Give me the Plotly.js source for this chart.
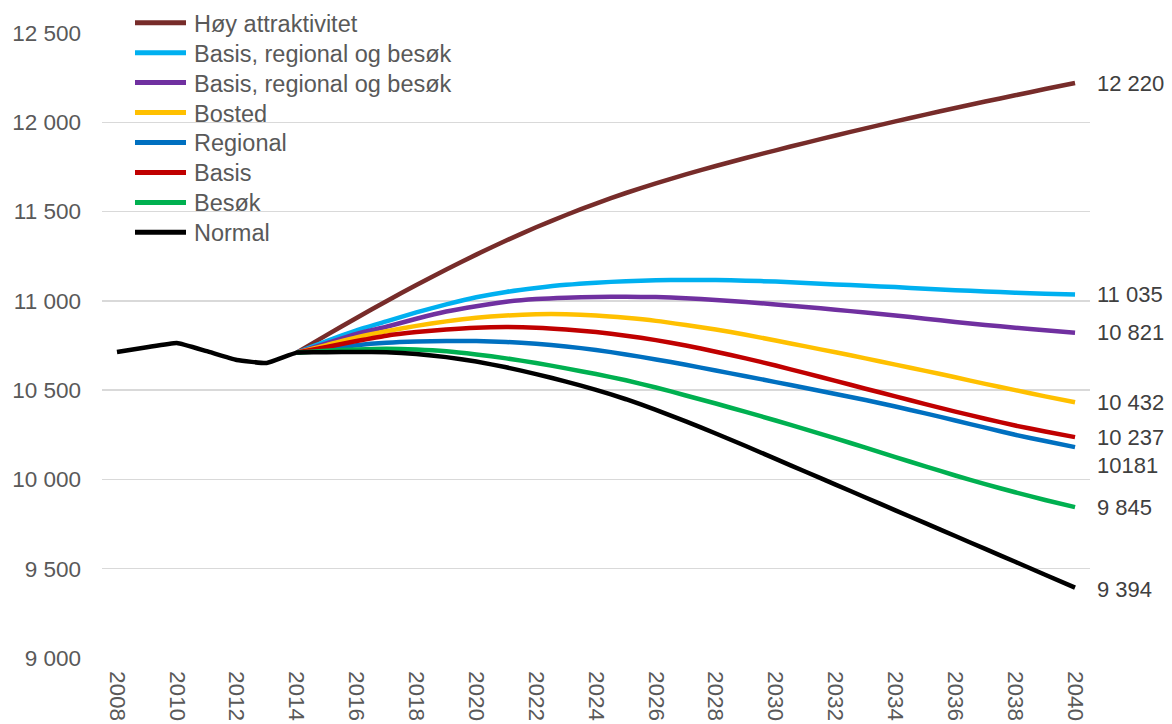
<!DOCTYPE html>
<html>
<head>
<meta charset="utf-8">
<script src="https://cdn.plot.ly/plotly-3.0.1.min.js"></script>
<style>html,body{margin:0;padding:0;background:#fff;}#chart{width:1172px;height:724px;}</style>
</head>
<body>
<div id="chart"></div>
<script>
// ---- data ----
const allYears = [2008,2009,2010,2011,2012,2013,2014,2015,2016,2017,2018,2019,2020,2021,2022,2023,2024,2025,2026,2027,2028,2029,2030,2031,2032,2033,2034,2035,2036,2037,2038,2039,2040];
const projYears = [2014,2015,2016,2017,2018,2019,2020,2021,2022,2023,2024,2025,2026,2027,2028,2029,2030,2031,2032,2033,2034,2035,2036,2037,2038,2039,2040];

const seriesNames = ["Høy attraktivitet","Basis, regional og besøk","Basis, regional og besøk","Bosted","Regional","Basis","Besøk","Normal"];

const hoyAttraktivitet = [10710,10808,10904,10998,11089,11176,11259,11338,11412,11481,11545,11604,11658,11708,11755,11800,11843,11885,11926,11966,12005,12043,12080,12116,12151,12186,12220];
const basisRegBesok1 = [10710,10775,10835,10885,10935,10980,11020,11050,11072,11090,11102,11110,11115,11117,11117,11113,11108,11100,11092,11085,11077,11068,11060,11053,11046,11040,11035];
const basisRegBesok2 = [10710,10762,10815,10855,10900,10940,10970,10995,11010,11018,11022,11023,11021,11015,11005,10993,10980,10966,10950,10935,10918,10900,10882,10865,10850,10835,10821];
const bosted = [10710,10752,10795,10830,10860,10885,10905,10918,10925,10925,10918,10905,10888,10865,10840,10810,10778,10745,10712,10678,10643,10608,10572,10535,10500,10465,10432];
const regional = [10710,10732,10752,10765,10772,10775,10775,10770,10760,10745,10725,10700,10672,10642,10610,10578,10545,10512,10478,10445,10408,10370,10330,10290,10250,10215,10181];
const basis = [10710,10742,10775,10805,10825,10840,10850,10853,10850,10840,10825,10805,10780,10750,10715,10678,10638,10595,10552,10508,10465,10422,10380,10340,10302,10268,10237];
const besok = [10710,10720,10728,10732,10728,10718,10700,10678,10652,10622,10590,10555,10515,10470,10425,10378,10330,10280,10230,10178,10125,10073,10022,9974,9928,9885,9845];
const normal = [10714,10740,10764,10718,10669,10652,10710,10712,10714,10712,10702,10685,10660,10628,10590,10548,10502,10449,10390,10325,10257,10187,10115,10043,9971,9899,9827,9755,9683,9611,9539,9466,9394];

const endLabels = ["12 220","11 035","10 821","10 432","10181","10 237","9 845","9 394"];

// ---- styling ----
const colors = ["#772C2A","#00B0F0","#7030A0","#FFC000","#0070C0","#C00000","#00B050","#000000"];
const seriesY = [hoyAttraktivitet,basisRegBesok1,basisRegBesok2,bosted,regional,basis,besok,normal];
const seriesX = [projYears,projYears,projYears,projYears,projYears,projYears,projYears,allYears];

const W = 1172, H = 724;
const M = {l:102, r:82, t:33, b:66};
const plotW = W - M.l - M.r, plotH = H - M.t - M.b;
const px2x = p => (p - M.l) / plotW;
const px2y = p => (H - M.b - p) / plotH;

const FONT = "Liberation Sans, Arial, sans-serif";
const traces = seriesY.map((y,i)=>({
  type:"scatter", mode:"lines", name:seriesNames[i],
  x:seriesX[i], y:y, showlegend:false,
  line:{color:colors[i], width:4.5, shape:"spline", smoothing: i < 7 ? 0.6 : 0.35}
}));

const annotations = seriesY.map((y,i)=>({
  x: seriesX[i][seriesX[i].length-1],
  y: y[y.length-1],
  xref:"x", yref:"y",
  text: endLabels[i],
  showarrow:false, xanchor:"left", yanchor:"middle",
  xshift: 20, yshift: (i===4 ? -18 : (i===7 ? -2 : 0)),
  font:{family:FONT, size:22, color:"#404040"}
}));

// manual legend (line samples + names)
const shapes = [];
seriesNames.forEach((name,i)=>{
  const yc = 22.7 + 29.95*i;
  shapes.push({type:"line", xref:"paper", yref:"paper",
    x0:px2x(135), x1:px2x(186), y0:px2y(yc), y1:px2y(yc),
    line:{color:colors[i], width:5}});
  annotations.push({xref:"paper", yref:"paper", x:px2x(192), y:px2y(yc+1),
    xanchor:"left", yanchor:"middle", showarrow:false, text:name,
    font:{family:FONT, size:23.5, color:"#595959"}});
});

const layout = {
  width:W, height:H,
  margin:{l:M.l, r:M.r, t:M.t, b:M.b, autoexpand:false},
  paper_bgcolor:"#ffffff", plot_bgcolor:"#ffffff",
  separators:", ",
  font:{family:FONT, size:22, color:"#595959"},
  showlegend:false,
  xaxis:{range:[2007.5,2040.5], tickmode:"linear", tick0:2008, dtick:2,
         tickformat:"d", tickangle:90, showgrid:false, zeroline:false,
         showline:false, ticks:"", ticklabelstandoff:12, automargin:false,
         tickfont:{family:FONT, size:22.5, color:"#595959"}},
  yaxis:{range:[9000,12500], tickmode:"linear", tick0:9000, dtick:500,
         tickformat:",d", separatethousands:true, automargin:false,
         showgrid:true, gridcolor:"#d9d9d9", gridwidth:1.5, zeroline:false,
         showline:false, ticks:"", ticklabelstandoff:20,
         tickfont:{family:FONT, size:22.5, color:"#595959"}},
  shapes:shapes,
  annotations:annotations
};

Plotly.newPlot("chart", traces, layout, {displayModeBar:false, staticPlot:true});
</script>
</body>
</html>
